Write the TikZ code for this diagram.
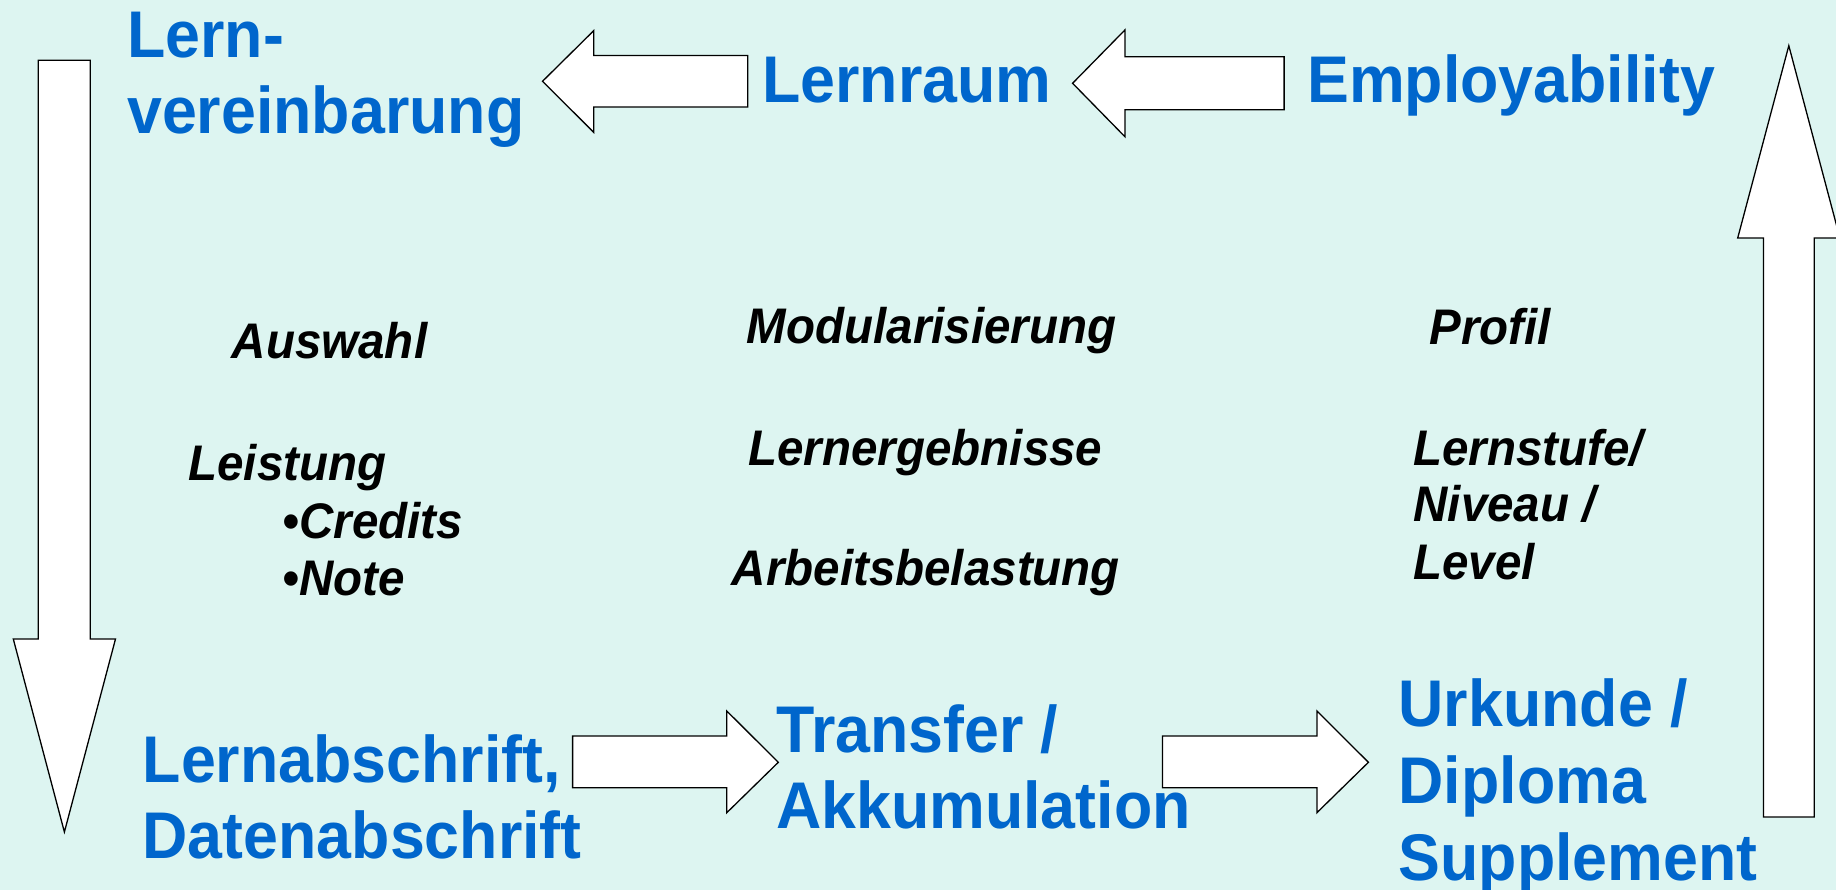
\documentclass[tikz,border=0pt]{standalone}
\usepackage{fontspec}
\setmainfont{Liberation Sans}
\newfontfamily\diafont[FakeStretch=0.95]{Liberation Sans}
\definecolor{bg}{RGB}{221,245,241}
\definecolor{tblue}{RGB}{0,102,204}
\begin{document}
\begin{tikzpicture}[x=1pt,y=-1pt,
  bluetext/.style={inner sep=0pt, anchor=base west, text=tblue,
    font=\diafont\bfseries\fontsize{66}{76}\selectfont},
  blacktext/.style={inner sep=0pt, anchor=base west, text=black,
    font=\diafont\bfseries\itshape\fontsize{50}{57}\selectfont},
  blockarrow/.style={draw=black, fill=white, line width=1.3pt, line join=miter}]
\fill[bg] (0,0) rectangle (1836,890);
\useasboundingbox (0,0) rectangle (1836,890);

% block arrows
\draw[blockarrow] (38.3,60.3) -- (90.3,60.3) -- (90.3,639) -- (115.5,639) -- (64.4,832) -- (13.3,639) -- (38.3,639) -- cycle;
\draw[blockarrow] (747.8,55.5) -- (593.7,55.5) -- (593.7,30.7) -- (542.5,81.3) -- (593.7,132.3) -- (593.7,107) -- (747.8,107) -- cycle;
\draw[blockarrow] (1284.1,56.7) -- (1124.9,56.7) -- (1124.9,30) -- (1072.6,83.3) -- (1124.9,136.7) -- (1124.9,109.7) -- (1284.1,109.7) -- cycle;
\draw[blockarrow] (1763.4,817) -- (1763.4,238) -- (1737.7,238) -- (1788.8,45.7) -- (1839.9,238) -- (1814.2,238) -- (1814.2,817) -- cycle;
\draw[blockarrow] (572.6,736) -- (726.8,736) -- (726.8,711) -- (778.3,762.3) -- (726.8,812.7) -- (726.8,787.7) -- (572.6,787.7) -- cycle;
\draw[blockarrow] (1162.4,736) -- (1316.9,736) -- (1316.9,711) -- (1368.4,762.3) -- (1316.9,812.7) -- (1316.9,787.7) -- (1162.4,787.7) -- cycle;

% blue labels
\node[bluetext] (lv1) at (127,57.3) {Lern-};
\node[bluetext] (lv2) at (127,133.3) {vereinbarung};
\node[bluetext] (lr) at (762,102.3) {Lernraum};
\node[bluetext] (emp) at (1307,102.3) {Employability};
\node[bluetext] (la1) at (142.5,782.7) {Lernabschrift,};
\node[bluetext] (la2) at (142.5,858.3) {Datenabschrift};
\node[bluetext] (ta1) at (776,752.7) {Transfer /};
\node[bluetext] (ta2) at (776,828.7) {Akkumulation};
\node[bluetext] (ud1) at (1398.5,726.7) {Urkunde /};
\node[bluetext] (ud2) at (1398.5,803.3) {Diploma};
\node[bluetext] (ud3) at (1398.5,880) {Supplement};

% black labels
\node[blacktext] (aus) at (231.7,359) {Auswahl};
\node[blacktext] (lei) at (188.3,480.7) {Leistung};
\node[blacktext] (cre) at (282.7,538.3) {•Credits};
\node[blacktext] (not) at (282.7,595) {•Note};
\node[blacktext] (mod) at (746.7,343.3) {Modularisierung};
\node[blacktext] (leg) at (748.3,465) {Lernergebnisse};
\node[blacktext] (arb) at (731.7,585) {Arbeitsbelastung};
\node[blacktext] (pro) at (1429.3,344.3) {Profil};
\node[blacktext] (ls1) at (1413.3,465) {Lernstufe/};
\node[blacktext] (ls2) at (1413.3,521.7) {Niveau /};
\node[blacktext] (ls3) at (1413.3,579.3) {Level};
\end{tikzpicture}
\end{document}
